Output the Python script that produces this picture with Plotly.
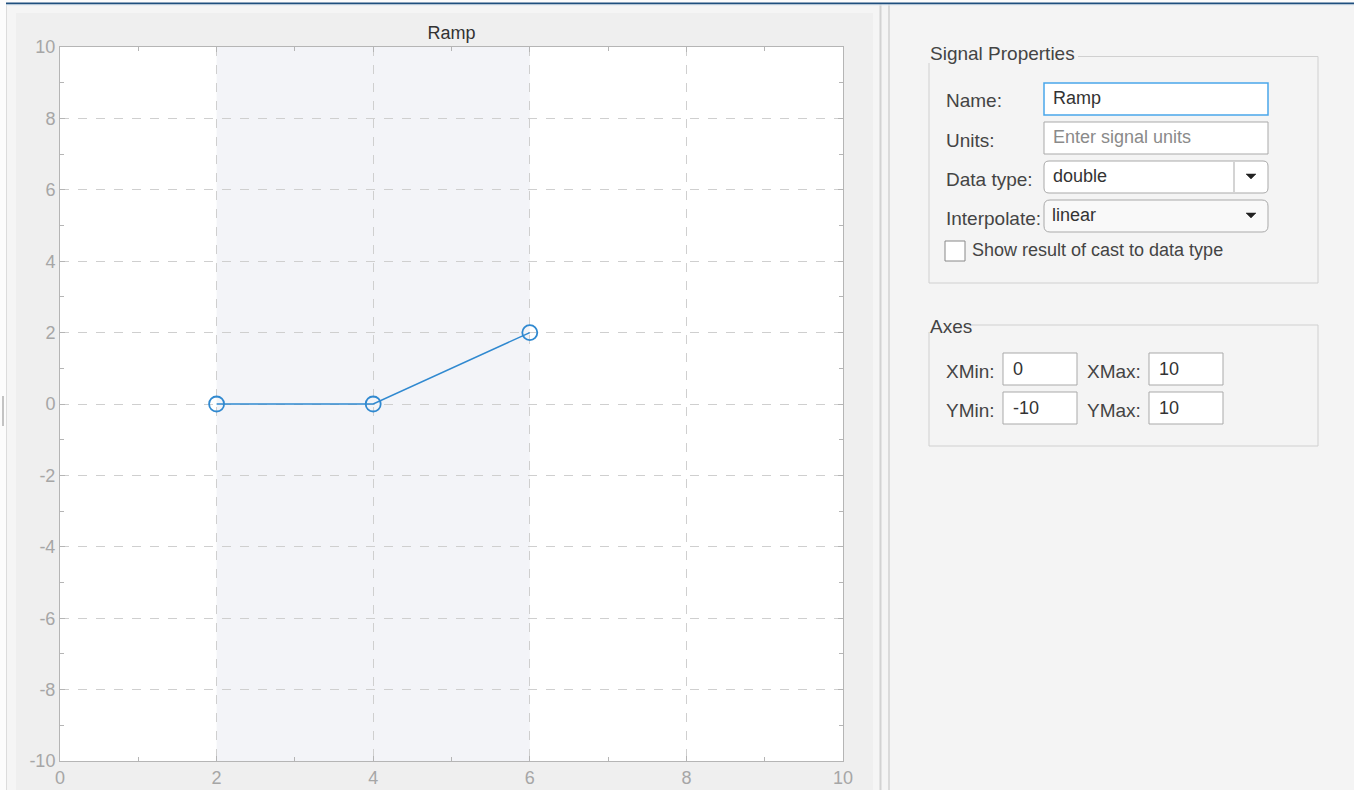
import plotly.graph_objects as go

# signal points
time = [2, 4, 6]
value = [0, 0, 2]
band = [2, 6]  # shaded region of the signal

x_ticks = [0, 2, 4, 6, 8, 10]
y_ticks = [-10, -8, -6, -4, -2, 0, 2, 4, 6, 8, 10]
x_range = [0, 10]
y_range = [-10, 10]

W, H = 1354, 790
L, R, T, B = 60, 843, 47, 761  # plot area in screen pixels


def px(x):
    return (x - L) / (R - L)


def py(y):
    return (B - y) / (B - T)


FONT = "Liberation Sans"
BLUE = "#3089d0"
LABEL = '#444444'
AX = dict(showgrid=True, gridcolor='#cfcfcf', griddash='dash', gridwidth=1, zeroline=False,
          showline=True, linecolor='#b5b5b5', mirror='ticks', ticks='inside', ticklen=5,
          tickcolor='#b5b5b5', tickfont=dict(size=18, color='#a6a6a6'), automargin=False,
          minor=dict(dtick=1, ticks='inside', ticklen=4, tickcolor='#b5b5b5', showgrid=False))

fig = go.Figure(
    data=go.Scatter(
        x=time,
        y=value,
        mode='lines+markers',
        line=dict(color=BLUE, width=1.5),
        marker=dict(symbol='circle-open', size=15, color=BLUE, line=dict(width=1.8, color=BLUE)),
        showlegend=False,
    ),
    layout=go.Layout(
        width=W, height=H, autosize=False,
        margin=dict(l=L, r=W - R, t=T, b=H - B, pad=0, autoexpand=False),
        paper_bgcolor='#f5f5f5',
        plot_bgcolor='white',
        font=dict(family=FONT),
        title=dict(text='Ramp', x=px((L + R) / 2), xref='paper', xanchor='center',
                   y=1 - 33 / H, yref='container', yanchor='middle',
                   font=dict(size=18, color='#333333')),
        xaxis=dict(range=x_range, tickvals=x_ticks, ticktext=[str(v) for v in x_ticks], **AX),
        yaxis=dict(range=y_range, tickvals=y_ticks, ticktext=[str(v) for v in y_ticks], **AX),
    )
)

NONE = 'rgba(0,0,0,0)'


def rect(x0, y0, x1, y1, fill=None, line='#c8c8c8', lw=1):
    fig.add_shape(type='rect', xref='paper', yref='paper',
                  x0=px(x0), x1=px(x1), y0=py(y1), y1=py(y0),
                  fillcolor=fill if fill else NONE,
                  line=dict(color=line, width=lw), layer='below')


def rrect(x0, y0, x1, y1, r, fill, line):
    p = (f'M {px(x0 + r)},{py(y0)} L {px(x1 - r)},{py(y0)} Q {px(x1)},{py(y0)} {px(x1)},{py(y0 + r)} '
         f'L {px(x1)},{py(y1 - r)} Q {px(x1)},{py(y1)} {px(x1 - r)},{py(y1)} '
         f'L {px(x0 + r)},{py(y1)} Q {px(x0)},{py(y1)} {px(x0)},{py(y1 - r)} '
         f'L {px(x0)},{py(y0 + r)} Q {px(x0)},{py(y0)} {px(x0 + r)},{py(y0)} Z')
    fig.add_shape(type='path', xref='paper', yref='paper', path=p, fillcolor=fill,
                  line=dict(color=line, width=1), layer='below')


def arrow(cx, cy):
    p = f'M {px(cx - 5)},{py(cy - 2)} L {px(cx + 5)},{py(cy - 2)} L {px(cx)},{py(cy + 3)} Z'
    fig.add_shape(type='path', xref='paper', yref='paper', path=p, fillcolor='#222222',
                  line=dict(color='#222222', width=0.5), layer='above')


def vline(x, y0, y1, color, lw=1):
    fig.add_shape(type='line', xref='paper', yref='paper', x0=px(x), x1=px(x),
                  y0=py(y0), y1=py(y1), line=dict(color=color, width=lw), layer='below')


def hline(y, x0, x1, color, lw=1):
    fig.add_shape(type='line', xref='paper', yref='paper', x0=px(x0), x1=px(x1),
                  y0=py(y), y1=py(y), line=dict(color=color, width=lw), layer='below')


def text(x, y, s, size=19, color=LABEL, anchor='left'):
    fig.add_annotation(xref='paper', yref='paper', x=px(x), y=py(y), text=s,
                       showarrow=False, xanchor=anchor, yanchor='middle',
                       font=dict(size=size, color=color, family=FONT))


# window chrome
rect(-2, -2, 6, H + 2, fill='#fcfcfc', line=NONE, lw=0)
vline(6.5, 4, H + 2, '#dcdcdc')
rect(16, 13, 873, H + 2, fill='#efefef', line=NONE, lw=0)
rect(L, T, R, B, fill='white', line=NONE, lw=0)  # plot area sits above the panel
rect(881, 4, W + 2, H + 2, fill='#f4f4f4', line=NONE, lw=0)
vline(880.5, 4, H + 2, '#d2d2d2', 2)
vline(889, 4, H + 2, '#d2d2d2', 1.5)
rect(-2, -2, W + 2, 3, fill='#fcfcfc', line=NONE, lw=0)
hline(3.5, 6, W + 2, '#1f4f7e', 2)
hline(5, 6, W + 2, '#dfe8f0', 1)
vline(3, 396, 426, '#b0b0b0', 1.5)

# shaded band between the first and last point
fig.add_shape(type='rect', xref='x', yref='paper', x0=band[0], x1=band[1], y0=0, y1=1,
              fillcolor='#f3f4f8', line_width=0, layer='below')

# Signal Properties group
fig.add_shape(type='path', xref='paper', yref='paper', layer='below',
              path=(f'M {px(1078)},{py(56.5)} L {px(1318)},{py(56.5)} L {px(1318)},{py(283)} '
                    f'L {px(929)},{py(283)} L {px(929)},{py(63)}'),
              line=dict(color='#d0d0d0', width=1))
text(928, 54, 'Signal Properties')

labels = ['Name:', 'Units:', 'Data type:', 'Interpolate:']
rows = [101, 140, 179, 218]
for lab, yy in zip(labels, rows):
    text(944, yy, lab)

rect(1044, 83, 1268, 115, fill='white', line='#49a6ea', lw=1.5)
text(1051, 98, 'Ramp', size=18, color='#333333')
rect(1044, 122, 1268, 154, fill='white', line='#a9a9a9')
text(1051, 137, 'Enter signal units', size=18, color='#8a8a8a')
rrect(1044, 161, 1268, 193, 5, 'white', '#a9a9a9')
vline(1234, 162, 192, '#a9a9a9')
text(1051, 176, 'double', size=18, color='#333333')
arrow(1251, 176)
rrect(1044, 200, 1268, 232, 6, '#f9f9f9', '#a9a9a9')
text(1050, 215, 'linear', size=18, color='#333333')
arrow(1251, 215)
rect(945, 241, 965, 261, fill='white', line='#888888')
text(970, 250, 'Show result of cast to data type', size=18, color=LABEL)

# Axes group
fig.add_shape(type='path', xref='paper', yref='paper', layer='below',
              path=(f'M {px(972)},{py(325)} L {px(1318)},{py(325)} L {px(1318)},{py(446)} '
                    f'L {px(929)},{py(446)} L {px(929)},{py(332)}'),
              line=dict(color='#d0d0d0', width=1))
text(928, 326, 'Axes')

axes_fields = [('XMin:', '0', 944, 1003, 369), ('XMax:', '10', 1085, 1149, 369),
               ('YMin:', '-10', 944, 1003, 408), ('YMax:', '10', 1085, 1149, 408)]
for lab, val, lx, bx, yy in axes_fields:
    text(lx, yy + 2, lab)
    rect(bx, yy - 16, bx + 74, yy + 16, fill='white', line='#a9a9a9')
    text(bx + 8, yy, val, size=18, color='#333333')

fig.write_html("out.html",
               config=dict(responsive=False, displayModeBar=False),
               post_script="document.body.style.margin='0';document.body.style.overflow='hidden';")
